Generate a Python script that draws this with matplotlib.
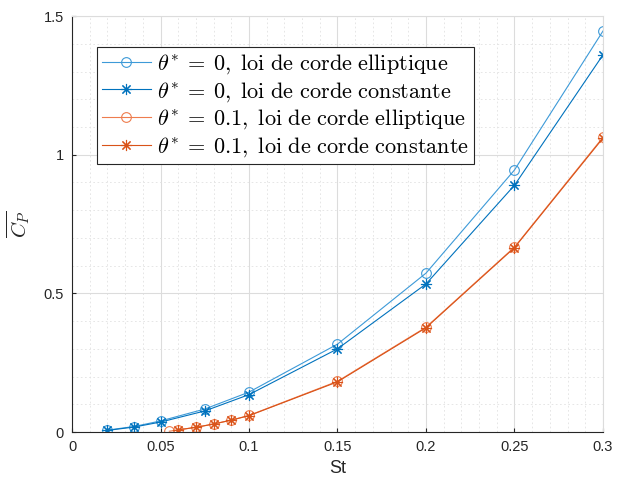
import numpy as np
import matplotlib.pyplot as plt
from matplotlib.ticker import MultipleLocator

plt.rcParams['font.family'] = ['Liberation Sans', 'DejaVu Sans']
plt.rcParams['mathtext.fontset'] = 'cm'

# data
st_blue = [0.02, 0.035, 0.05, 0.075, 0.1, 0.15, 0.2, 0.25, 0.3]
cp_ell_0 = [0.007, 0.02, 0.04, 0.083, 0.144, 0.317, 0.573, 0.945, 1.446]
cp_cst_0 = [0.006, 0.018, 0.036, 0.076, 0.135, 0.300, 0.534, 0.890, 1.360]

st_ell_01 = [0.055, 0.06, 0.07, 0.08, 0.09, 0.1, 0.15, 0.2, 0.25, 0.3]
cp_ell_01 = [0.003, 0.008, 0.017, 0.029, 0.043, 0.060, 0.183, 0.378, 0.667, 1.063]
st_cst_01 = [0.06, 0.07, 0.08, 0.09, 0.1, 0.15, 0.2, 0.25, 0.3]
cp_cst_01 = [0.008, 0.017, 0.029, 0.043, 0.059, 0.181, 0.376, 0.665, 1.060]

labels = [r'$\theta^{*}\:=\:0,\ \mathrm{loi\ de\ corde\ elliptique}$',
          r'$\theta^{*}\:=\:0,\ \mathrm{loi\ de\ corde\ constante}$',
          r'$\theta^{*}\:=\:0.1,\ \mathrm{loi\ de\ corde\ elliptique}$',
          r'$\theta^{*}\:=\:0.1,\ \mathrm{loi\ de\ corde\ constante}$']

fig = plt.figure(figsize=(6.17, 4.86), dpi=100)
ax = fig.add_axes([0.1167, 0.111, 0.8606, 0.856])

star = (8, 2, 0)
ax.plot(st_blue, cp_ell_0, '-o', color='#3d9ad8', mfc='none', ms=7, lw=0.8, mew=0.8, label=labels[0])
ax.plot(st_blue, cp_cst_0, '-', marker=star, color='#0072bd', ms=8, lw=0.8, mew=0.8, label=labels[1])
ax.plot(st_ell_01, cp_ell_01, '-o', color='#ee7d4e', mfc='none', ms=7, lw=0.8, mew=0.8, label=labels[2])
ax.plot(st_cst_01, cp_cst_01, '-', marker=star, color='#d95319', ms=8, lw=0.8, mew=0.8, label=labels[3])

ax.set_xlim(0, 0.3)
ax.set_ylim(0, 1.5)
ax.set_xticks([0, 0.05, 0.1, 0.15, 0.2, 0.25, 0.3])
ax.set_xticklabels(['0', '0.05', '0.1', '0.15', '0.2', '0.25', '0.3'])
ax.set_yticks([0, 0.5, 1, 1.5])
ax.set_yticklabels(['0', '0.5', '1', '1.5'])
ax.xaxis.set_minor_locator(MultipleLocator(0.01))
ax.yaxis.set_minor_locator(MultipleLocator(0.1))
ax.grid(True, which='major', color='#dcdcdc', lw=0.8)
ax.grid(True, which='minor', color='#e2e2e2', lw=0.6, ls=(0, (2, 3)))
ax.set_axisbelow(True)
ax.tick_params(which='both', direction='in', length=0, labelsize=10.5, colors='#262626', pad=6)
ax.tick_params(which='major', length=3)
for s in ['left', 'bottom']:
    ax.spines[s].set_color('#262626')
    ax.spines[s].set_linewidth(0.8)
for s in ['top', 'right']:
    ax.spines[s].set_color('#dcdcdc')

ax.set_xlabel('St', fontsize=13, color='#262626', labelpad=4)
ax.set_ylabel(r'$\overline{C_P}$', fontsize=15, color='#262626', labelpad=8)

leg = ax.legend(loc='upper left', bbox_to_anchor=(0.047, 0.925), fontsize=16,
                fancybox=False, framealpha=1, edgecolor='#262626',
                handlelength=2.2, handletextpad=0.3, borderpad=0.22, labelspacing=0.16,
                borderaxespad=0)
leg.get_frame().set_linewidth(0.8)

fig.savefig('out.png', dpi=100)
